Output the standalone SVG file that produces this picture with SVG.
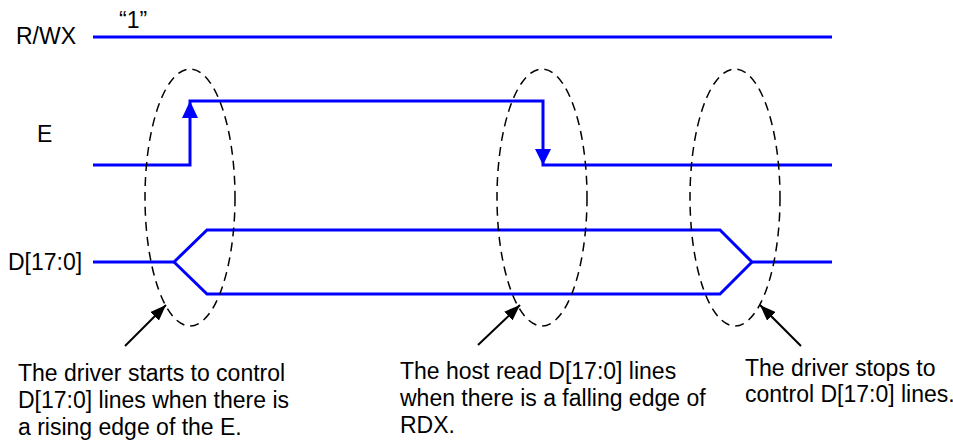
<svg xmlns="http://www.w3.org/2000/svg" width="953" height="442" viewBox="0 0 953 442">
<style>
text{font-family:"Liberation Sans",Arial,sans-serif;font-size:23px;fill:#000}
.sig{fill:none;stroke:#0000ff;stroke-width:3;stroke-linejoin:miter}
.ell{fill:none;stroke:#000;stroke-width:1.5;stroke-dasharray:9 6}
.ptr{fill:none;stroke:#000;stroke-width:2}
</style>
<defs>
<marker id="kh" viewBox="0 0 16 12" refX="16" refY="6" markerWidth="16" markerHeight="12" markerUnits="userSpaceOnUse" orient="auto"><path d="M0,0 L16,6 L0,12 Z" fill="#000"/></marker>
</defs>
<g id="labels">
<text x="16" y="44">R/WX</text>
<text x="119" y="28">“1”</text>
<text x="37" y="142">E</text>
<text x="8" y="270">D[17:0]</text>
</g>
<g id="signals">
<g id="rwx"><line class="sig" x1="93" y1="37" x2="832" y2="37"/></g>
<g id="e">
<polyline class="sig" points="93,165 190,165 190,101 543,101 543,165 832,165"/>
<path d="M190,101 L198,118 L182,118 Z" fill="#0000ff"/>
<path d="M543,165 L535,149 L551,149 Z" fill="#0000ff"/>
</g>
<g id="d">
<polyline class="sig" points="93,262 174,262 207,230 720,230 752,262 832,262"/>
<polyline class="sig" points="174,262 207,294 720,294 752,262"/>
</g>
</g>
<g id="ellipses">
<ellipse id="ell1" class="ell" cx="190" cy="197.5" rx="45" ry="128.5"/>
<ellipse id="ell2" class="ell" cx="542" cy="197.5" rx="45" ry="128.5"/>
<ellipse id="ell3" class="ell" cx="735" cy="197.5" rx="45" ry="128.5"/>
</g>
<g id="connectors">
<line class="ptr" x1="125" y1="346" x2="166" y2="305" marker-end="url(#kh)"/>
<line class="ptr" x1="478" y1="345" x2="520" y2="305" marker-end="url(#kh)"/>
<line class="ptr" x1="801" y1="346" x2="760" y2="305" marker-end="url(#kh)"/>
</g>
<g id="note1">
<text x="18" y="381">The driver starts to control</text>
<text x="18" y="408">D[17:0] lines when there is</text>
<text x="18" y="435">a rising edge of the E.</text>
</g>
<g id="note2">
<text x="400" y="379">The host read D[17:0] lines</text>
<text x="400" y="406">when there is a falling edge of</text>
<text x="400" y="433">RDX.</text>
</g>
<g id="note3">
<text x="745" y="376">The driver stops to</text>
<text x="745" y="402">control D[17:0] lines.</text>
</g>
</svg>
